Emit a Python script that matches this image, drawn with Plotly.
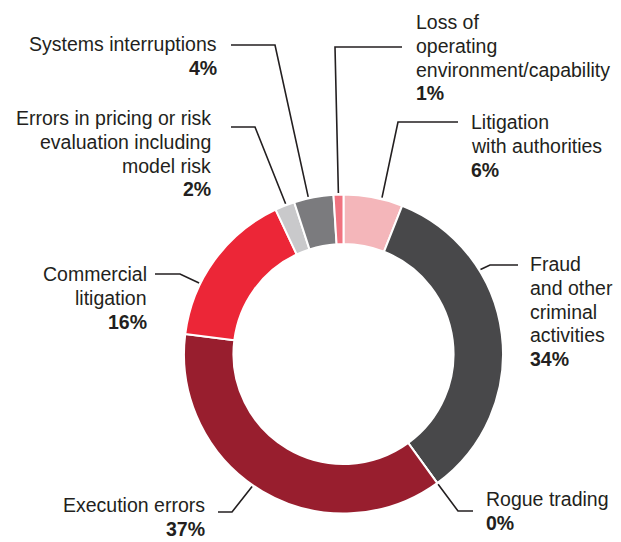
import math
import plotly.graph_objects as go

# slices, clockwise from 12 o'clock
labels = [
    "Litigation with authorities",
    "Fraud and other criminal activities",
    "Rogue trading",
    "Execution errors",
    "Commercial litigation",
    "Errors in pricing or risk evaluation including model risk",
    "Systems interruptions",
    "Loss of operating environment/capability",
]
values = [6, 34, 0, 37, 16, 2, 4, 1]
colors = ["#F4B6BA", "#48484A", "#48484A", "#981E2E", "#EC2637",
          "#C9C9CB", "#7B7B7E", "#F07380"]

# text shown next to each slice (lines of the label)
label_lines = [
    ["Litigation", "with authorities"],
    ["Fraud", "and other", "criminal", "activities"],
    ["Rogue trading"],
    ["Execution errors"],
    ["Commercial", "litigation"],
    ["Errors in pricing or risk", "evaluation including", "model risk"],
    ["Systems interruptions"],
    ["Loss of", "operating", "environment/capability"],
]

# page is shown with the browser's default 8px body margin
PAGE_W, PAGE_H, PM = 621, 542, 8
W, H = PAGE_W - PM, PAGE_H - PM
CX, CY, R = 343.5, 354, 159.5   # donut centre / radius in page pixels
FS = 19.5
STEP = 23.7
INK = "#231F20"
FONT = "Liberation Sans, Arial, sans-serif"

# label placement (page pixels): where along the slice the leader attaches,
# elbow point, end of horizontal run, text anchor (first baseline), alignment
placement = [
    dict(frac=0.64, elbow=(398, 122), end=(458, 122), text=(470, 130), align="left"),
    dict(frac=0.30, elbow=(490, 265), end=(518, 265), text=(529, 272), align="left"),
    dict(frac=0.0, elbow=(458, 511), end=(473, 511), text=(485, 507), align="left"),
    dict(frac=0.53, elbow=(232, 512), end=(218, 512), text=(206, 513), align="right"),
    dict(frac=0.33, elbow=(180, 274), end=(155, 274), text=(148, 282), align="right"),
    dict(frac=0.57, elbow=(255, 127), end=(231, 127), text=(212, 126), align="right"),
    dict(frac=0.37, elbow=(275, 45), end=(231, 45), text=(218, 52), align="right"),
    dict(frac=0.5, elbow=(335, 47), end=(402, 47), text=(415, 30), align="left"),
]

fig = go.Figure()
fig.add_trace(go.Pie(
    labels=labels,
    values=values,
    sort=False,
    direction="clockwise",
    rotation=0,
    hole=0.69,
    textinfo="none",
    hoverinfo="label+percent",
    marker=dict(colors=colors, line=dict(color="white", width=2)),
    domain=dict(x=[(CX - R - PM) / W, (CX + R - PM) / W],
                y=[(PAGE_H - CY - R) / H, (PAGE_H - CY + R) / H]),
    showlegend=False,
))

total = sum(values)
shapes = []
annotations = []
cum = 0
for v, lines, p in zip(values, label_lines, placement):
    a0 = cum / total * 360
    a1 = (cum + v) / total * 360
    cum += v
    th = math.radians(a0 + p["frac"] * (a1 - a0))
    ax = CX + (R + 1.5) * math.sin(th)
    ay = CY - (R + 1.5) * math.cos(th)
    ex, ey = p["elbow"]
    hx, hy = p["end"]
    shapes.append(dict(
        type="path", xref="x", yref="y",
        path=f"M {ax:.1f} {ay:.1f} L {ex} {ey} L {hx} {hy}",
        line=dict(color=INK, width=1.6),
    ))
    pct = round(v / total * 100)
    rows = lines + [f"<b>{pct}%</b>"]
    tx, ty = p["text"]
    for i, row in enumerate(rows):
        annotations.append(dict(
            x=tx, y=ty + i * STEP - FS * 1.02, xref="x", yref="y",
            text=row, showarrow=False,
            xanchor=p["align"], yanchor="top", align=p["align"],
            font=dict(family=FONT, size=FS, color=INK),
            borderpad=0,
        ))

fig.update_layout(
    width=W, height=H,
    margin=dict(l=0, r=0, t=0, b=0),
    paper_bgcolor="white",
    plot_bgcolor="rgba(0,0,0,0)",
    xaxis=dict(range=[PM, PAGE_W], visible=False, fixedrange=True),
    yaxis=dict(range=[PAGE_H, PM], visible=False, fixedrange=True),
    shapes=shapes,
    annotations=annotations,
)

fig.write_html("out.html")
